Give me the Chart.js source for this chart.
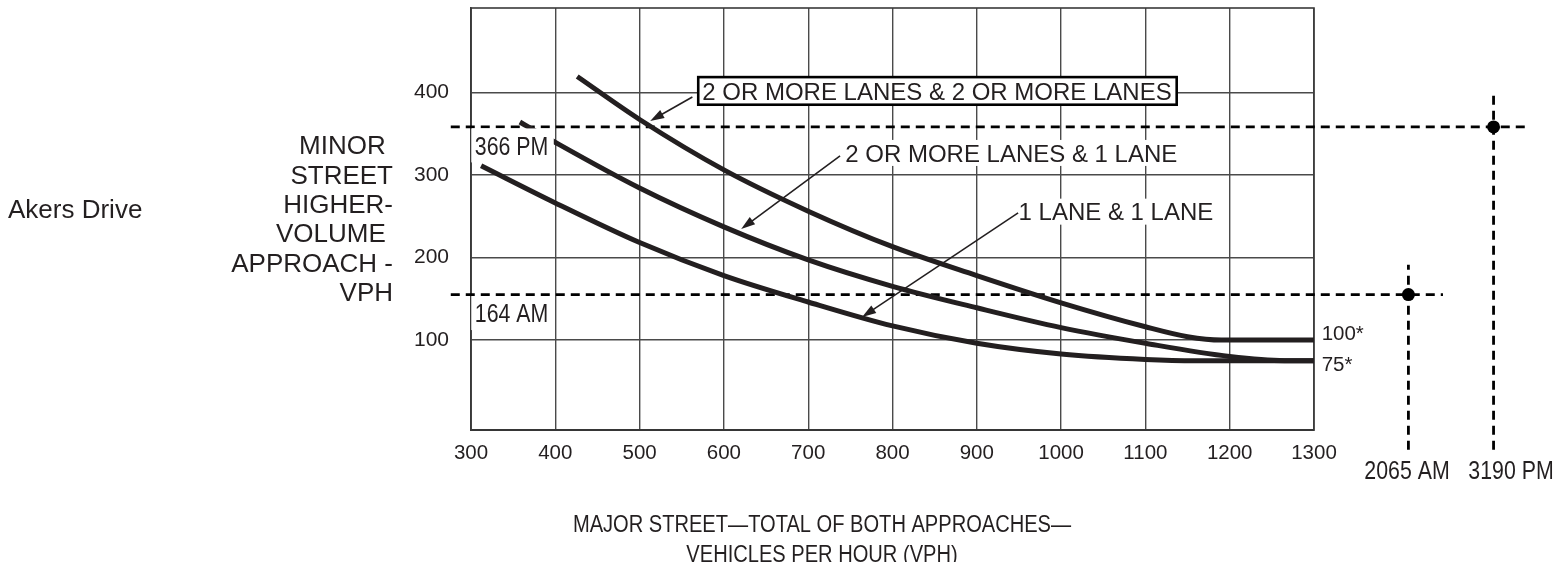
<!DOCTYPE html>
<html>
<head>
<meta charset="utf-8">
<script src="https://cdn.jsdelivr.net/npm/chart.js@4.4.1/dist/chart.umd.min.js"></script>
<style>
    html, body { margin: 0; padding: 0; background: #fff; }
    canvas { display: block; }
</style>
</head>
<body>
<canvas id="chart" width="1557" height="562"></canvas>
<script>
// axis ticks
const xTicks = [300, 400, 500, 600, 700, 800, 900, 1000, 1100, 1200, 1300]
const yTicks = [100, 200, 300, 400]

// warrant curves (major street vph -> minor street vph)
const twoTwoX = [426, 500, 600, 700, 800, 900, 1000, 1100, 1150, 1190, 1300]
const twoTwoY = [419, 367, 306, 256, 213, 178, 145, 116, 104, 100, 100]
const twoOneX = [358, 397, 500, 600, 700, 800, 900, 1000, 1100, 1200, 1265, 1300]
const twoOneY = [364, 341, 284, 237, 197, 165, 139, 115, 96, 80, 75, 75]
const oneOneX = [312, 400, 500, 600, 700, 800, 900, 1000, 1100, 1160, 1300]
const oneOneY = [311, 266, 218, 178, 146, 117, 96, 83, 76.5, 75, 75]

// counted volumes: labels, and where the figure plots them (off-scale on the major axis)
const minorLabels = ["366 PM", "164 AM"]
const minorPlotted = [358, 155]
const majorLabels = ["3190 PM", "2065 AM"]
const majorPlotted = [1513, 1412]

const INK = "#231f20"
const FONT = '"Liberation Sans", Arial, Helvetica, sans-serif'

const zip = (xs, ys) => xs.map((x, i) => ({ x: x, y: ys[i] }))

const curve = (xs, ys) => ({
    data: zip(xs, ys),
    showLine: true,
    borderColor: INK,
    borderWidth: 5,
    borderCapStyle: "butt",
    pointRadius: 0,
    cubicInterpolationMode: "monotone",
})

const guide = (points) => ({
    data: points,
    showLine: true,
    borderColor: "#000",
    borderWidth: 2.8,
    borderDash: [9, 6],
    pointRadius: 0,
    clip: false,
})

// dashed guides run from the left margin past the dots
const guides = [
    guide([{ x: 276, y: minorPlotted[0] }, { x: 1554, y: minorPlotted[0] }]),
    guide([{ x: 276, y: minorPlotted[1] }, { x: 1453, y: minorPlotted[1] }]),
    guide([{ x: majorPlotted[0], y: -33 }, { x: majorPlotted[0], y: 399 }]),
    guide([{ x: majorPlotted[1], y: -33 }, { x: majorPlotted[1], y: 191 }]),
]

function txt(ctx, s, x, y, size, align, narrow) {
    const k = narrow ? 0.82 : 1
    ctx.save()
    ctx.font = `${size}px ${FONT}`
    ctx.fillStyle = INK
    ctx.textAlign = align
    ctx.textBaseline = "alphabetic"
    ctx.translate(x, y + size * 0.358)
    ctx.scale(k, 1)
    ctx.fillText(s, 0, 0)
    ctx.restore()
}

function width(ctx, s, size, narrow) {
    ctx.save()
    ctx.font = `${size}px ${FONT}`
    const w = ctx.measureText(s).width * (narrow ? 0.82 : 1)
    ctx.restore()
    return w
}

function arrow(ctx, x0, y0, x1, y1) {
    const a = Math.atan2(y1 - y0, x1 - x0)
    ctx.save()
    ctx.strokeStyle = INK
    ctx.fillStyle = INK
    ctx.lineWidth = 1.6
    ctx.beginPath()
    ctx.moveTo(x0, y0)
    ctx.lineTo(x1 - 10 * Math.cos(a), y1 - 10 * Math.sin(a))
    ctx.stroke()
    ctx.beginPath()
    ctx.moveTo(x1, y1)
    ctx.lineTo(x1 - 14 * Math.cos(a) + 4.5 * Math.sin(a), y1 - 14 * Math.sin(a) - 4.5 * Math.cos(a))
    ctx.lineTo(x1 - 14 * Math.cos(a) - 4.5 * Math.sin(a), y1 - 14 * Math.sin(a) + 4.5 * Math.cos(a))
    ctx.closePath()
    ctx.fill()
    ctx.restore()
}

const framePlugin = {
    id: "frame",
    beforeDatasetsDraw(chart) {
        const { ctx, chartArea: a } = chart
        ctx.save()
        ctx.strokeStyle = "#3a3a3a"
        ctx.lineWidth = 1.6
        ctx.strokeRect(a.left, a.top, a.right - a.left, a.bottom - a.top)
        ctx.restore()
    },
}

const notesPlugin = {
    id: "notes",
    afterDatasetsDraw(chart) {
        const ctx = chart.ctx
        const X = (v) => chart.scales.x.getPixelForValue(v)
        const Y = (v) => chart.scales.y.getPixelForValue(v)

        // counted volume dots
        ctx.save()
        ctx.fillStyle = "#000"
        majorPlotted.forEach((mx, i) => {
            ctx.beginPath()
            ctx.arc(X(mx), Y(minorPlotted[i]), 6.5, 0, Math.PI * 2)
            ctx.fill()
        })
        ctx.restore()

        // masked labels on the left of the grid
        minorLabels.forEach((s, i) => {
            const x = X(304.5)
            const cy = Y(minorPlotted[i]) + 18.5
            const w = width(ctx, s, 26, true)
            ctx.fillStyle = "#fff"
            ctx.fillRect(x - 3.5, cy - 17, w + 9, 34)
            txt(ctx, s, x, cy, 26, "left", true)
        })

        // boxed curve label
        let x = X(574.3), cy = Y(401.6)
        let s = "2 OR MORE LANES & 2 OR MORE LANES"
        let w = width(ctx, s, 24)
        ctx.save()
        ctx.fillStyle = "#fff"
        ctx.fillRect(x - 4, cy - 13.8, w + 9, 27.6)
        ctx.strokeStyle = "#000"
        ctx.lineWidth = 2.6
        ctx.strokeRect(x - 4, cy - 13.8, w + 9, 27.6)
        ctx.restore()
        txt(ctx, s, x, cy, 24, "left")
        arrow(ctx, X(562.6), Y(394.3), X(512.6), Y(365.3))

        // plain curve labels on a white ground
        const plain = [
            ["2 OR MORE LANES & 1 LANE", 743.9, 326.5, 737.8, 322.9, 620.5, 234.4],
            ["1 LANE & 1 LANE", 949.5, 255.4, 949, 254, 764, 127.9],
        ]
        plain.forEach(([s, lx, ly, tx, ty, hx, hy]) => {
            const x = X(lx), cy = Y(ly)
            const w = width(ctx, s, 24)
            ctx.fillStyle = "#fff"
            ctx.fillRect(x - 2, cy - 13, w + 4, 26)
            txt(ctx, s, x, cy, 24, "left")
            arrow(ctx, X(tx), Y(ty), X(hx), Y(hy))
        })

        // curve end values
        txt(ctx, "100*", X(1309.1), Y(108.5), 20.5, "left")
        txt(ctx, "75*", X(1309.1), Y(71), 20.5, "left")

        // off-scale major volumes
        txt(ctx, majorLabels[0], 1511, 470, 26, "center", true)
        txt(ctx, majorLabels[1], 1407, 470, 26, "center", true)

        // street name and axis titles
        txt(ctx, "Akers Drive", 8, 209, 26, "left")
        const yTitle = ["MINOR ", "STREET", "HIGHER-", "VOLUME ", "APPROACH -", "VPH"]
        yTitle.forEach((s, i) => txt(ctx, s, 393, 145 + i * 29.3, 26, "right"))
        txt(ctx, "MAJOR STREET\u2014TOTAL OF BOTH APPROACHES\u2014", 822, 523, 24.5, "center", true)
        txt(ctx, "VEHICLES PER HOUR (VPH)", 822, 553, 24.5, "center", true)
    },
}

new Chart(document.getElementById("chart"), {
    type: "scatter",
    data: {
        datasets: [curve(twoTwoX, twoTwoY), curve(twoOneX, twoOneY), curve(oneOneX, oneOneY), ...guides],
    },
    options: {
        responsive: false,
        animation: false,
        devicePixelRatio: 1,
        layout: { padding: { left: 401, right: 243, top: 8, bottom: 72 } },
        plugins: { legend: { display: false }, tooltip: { enabled: false } },
        scales: {
            x: {
                type: "linear",
                min: 300,
                max: 1300,
                afterBuildTicks: (s) => { s.ticks = xTicks.map((v) => ({ value: v })) },
                afterFit: (s) => {
                    s.height = 60
                    s.paddingLeft = 0
                    s.paddingRight = 0
                },
                ticks: { color: INK, padding: 11, font: { family: FONT, size: 20.5 }, callback: (v) => String(v) },
                grid: { color: "#4a4a4a", lineWidth: 1.4, drawTicks: false },
                border: { color: "#2a2a2a", width: 2 },
            },
            y: {
                type: "linear",
                min: -9,
                max: 502,
                afterBuildTicks: (s) => { s.ticks = yTicks.map((v) => ({ value: v })) },
                afterFit: (s) => {
                    s.width = 70
                    s.paddingTop = 0
                    s.paddingBottom = 0
                },
                ticks: { color: INK, padding: 22, font: { family: FONT, size: 21 }, callback: (v) => String(v) },
                grid: { color: "#4a4a4a", lineWidth: 1.4, drawTicks: false },
                border: { color: "#3a3a3a", width: 1.6 },
            },
        },
    },
    plugins: [framePlugin, notesPlugin],
})
</script>
</body>
</html>
